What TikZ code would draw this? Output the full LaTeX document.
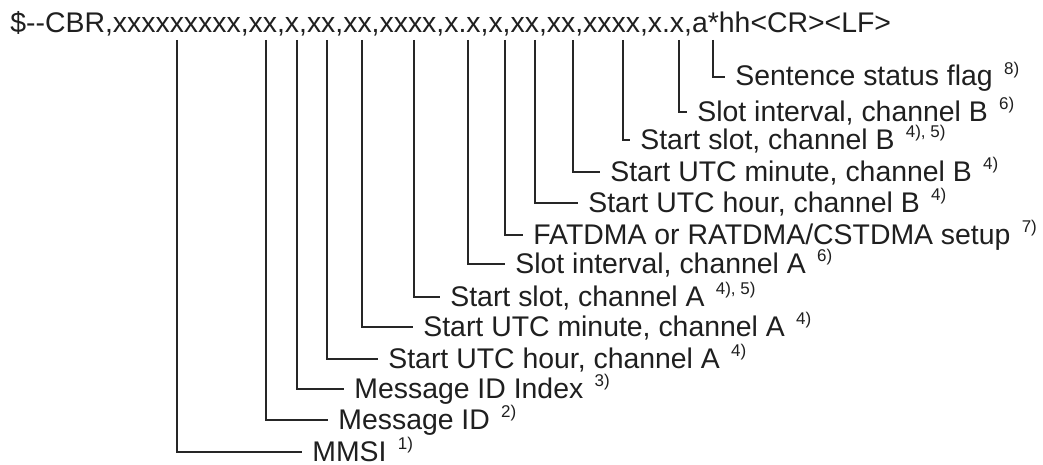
\documentclass[tikz,border=0pt]{standalone}
\usepackage{fontspec}
\setmainfont{Liberation Sans}
\newcommand{\fnote}[1]{\hspace{0.12em}\raisebox{0.4em}{\fontsize{8.5}{10}\selectfont #1}}

\begin{document}
\begin{tikzpicture}[x=0.5pt,y=-0.5pt,
  sentence/.style={font=\fontsize{14.2}{17}\selectfont,text=black!88,anchor=base west,inner sep=0pt},
  field/.style={font=\fontsize{14.2}{17}\selectfont,text=black!88,anchor=west,
    inner xsep=5pt,inner ysep=0pt,text height=1.1em,text depth=0.2em},
  lead/.style={draw=black!85,line width=0.65pt}
]
  \useasboundingbox (0,0) rectangle (1043,465);

  % sentence
  \node[sentence] (nmea) at (10,33) {\$-{}-CBR,xxxxxxxxx,xx,x,xx,xx,xxxx,x.x,x,xx,xx,xxxx,x.x,a*hh<CR><LF>};

  % field tops
  \coordinate (fmmsi) at (177,40);
  \coordinate (fmsgid) at (266,40);
  \coordinate (findex) at (297,40);
  \coordinate (fhoura) at (327,40);
  \coordinate (fmina) at (362,40);
  \coordinate (fslota) at (414,40);
  \coordinate (finta) at (468,40);
  \coordinate (fsetup) at (505,40);
  \coordinate (fhourb) at (535,40);
  \coordinate (fminb) at (573,40);
  \coordinate (fslotb) at (623,40);
  \coordinate (fintb) at (679,40);
  \coordinate (fflag) at (713,40);

  % labels, channel A
  \node[field] (mmsi) at (302,452) {MMSI \fnote{1)}};
  \node[field] (msgid) at (328,420) {Message ID \fnote{2)}};
  \node[field] (index) at (344,389) {Message ID Index \fnote{3)}};
  \node[field] (houra) at (378,359) {Start UTC hour, channel A \fnote{4)}};
  \node[field] (mina) at (413,327) {Start UTC minute, channel A \fnote{4)}};
  \node[field] (slota) at (440,297) {Start slot, channel A \fnote{4), 5)}};
  \node[field] (inta) at (505,264) {Slot interval, channel A \fnote{6)}};
  \node[field] (setup) at (523,235) {FATDMA or RATDMA/CSTDMA setup \fnote{7)}};

  % labels, channel B
  \node[field] (hourb) at (578,203) {Start UTC hour, channel B \fnote{4)}};
  \node[field] (minb) at (600,172) {Start UTC minute, channel B \fnote{4)}};
  \node[field] (slotb) at (630,140) {Start slot, channel B \fnote{4), 5)}};
  \node[field] (intb) at (687,112) {Slot interval, channel B \fnote{6)}};
  \node[field] (flag) at (725,77) {Sentence status flag \fnote{8)}};

  % leaders
  \draw[lead] (fmmsi) |- (mmsi.west);
  \draw[lead] (fmsgid) |- (msgid.west);
  \draw[lead] (findex) |- (index.west);
  \draw[lead] (fhoura) |- (houra.west);
  \draw[lead] (fmina) |- (mina.west);
  \draw[lead] (fslota) |- (slota.west);
  \draw[lead] (finta) |- (inta.west);
  \draw[lead] (fsetup) |- (setup.west);
  \draw[lead] (fhourb) |- (hourb.west);
  \draw[lead] (fminb) |- (minb.west);
  \draw[lead] (fslotb) |- (slotb.west);
  \draw[lead] (fintb) |- (intb.west);
  \draw[lead] (fflag) |- (flag.west);
\end{tikzpicture}
\end{document}
